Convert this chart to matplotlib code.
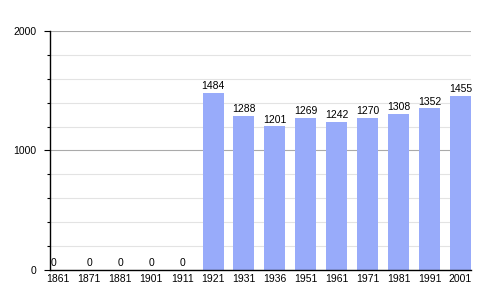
import numpy as np
import matplotlib.pyplot as plt
from matplotlib.ticker import MultipleLocator

plt.rcParams['font.family'] = ['Liberation Sans', 'DejaVu Sans']

# data
years = ['1861', '1871', '1881', '1901', '1911', '1921', '1931',
         '1936', '1951', '1961', '1971', '1981', '1991', '2001']
population = [0, 0, 0, 0, 0, 1484, 1288, 1201, 1269, 1242, 1270, 1308, 1352, 1455]

bar_color = '#98abfa'

fig = plt.figure(figsize=(5, 3), dpi=100)
ax = fig.add_axes([0.1, 0.1, 0.842, 0.797])

x = np.arange(len(years))
ax.bar(x, population, width=0.68, color=bar_color, zorder=2)

x_left = -0.27
ax.set_xlim(x_left, len(years) - 1 + 0.34)
ax.set_ylim(0, 2000)

# value labels
for xi, v in zip(x, population):
    if xi == 0:
        ax.text(x_left + 0.02, v + 15, str(v), ha='left', va='bottom', fontsize=7.5)
    else:
        ax.text(xi, v + 15, str(v), ha='center', va='bottom', fontsize=7.5)

ax.set_xticks(x)
ax.set_xticklabels(years, fontsize=7.5)
ax.tick_params(axis='x', length=0, pad=3)

ax.yaxis.set_major_locator(MultipleLocator(1000))
ax.yaxis.set_minor_locator(MultipleLocator(200))
ax.tick_params(axis='y', which='major', length=4, width=0.8, labelsize=7.5, pad=6)
ax.tick_params(axis='y', which='minor', length=2, width=0.8)

ax.grid(axis='y', which='major', color='#aaaaaa', linewidth=0.8, zorder=0)
ax.grid(axis='y', which='minor', color='#e3e3e3', linewidth=0.8, zorder=0)
ax.set_axisbelow(True)

for s in ['top', 'right']:
    ax.spines[s].set_visible(False)
ax.spines['left'].set_linewidth(1)
ax.spines['bottom'].set_linewidth(1)

fig.savefig('out.png', dpi=100)
